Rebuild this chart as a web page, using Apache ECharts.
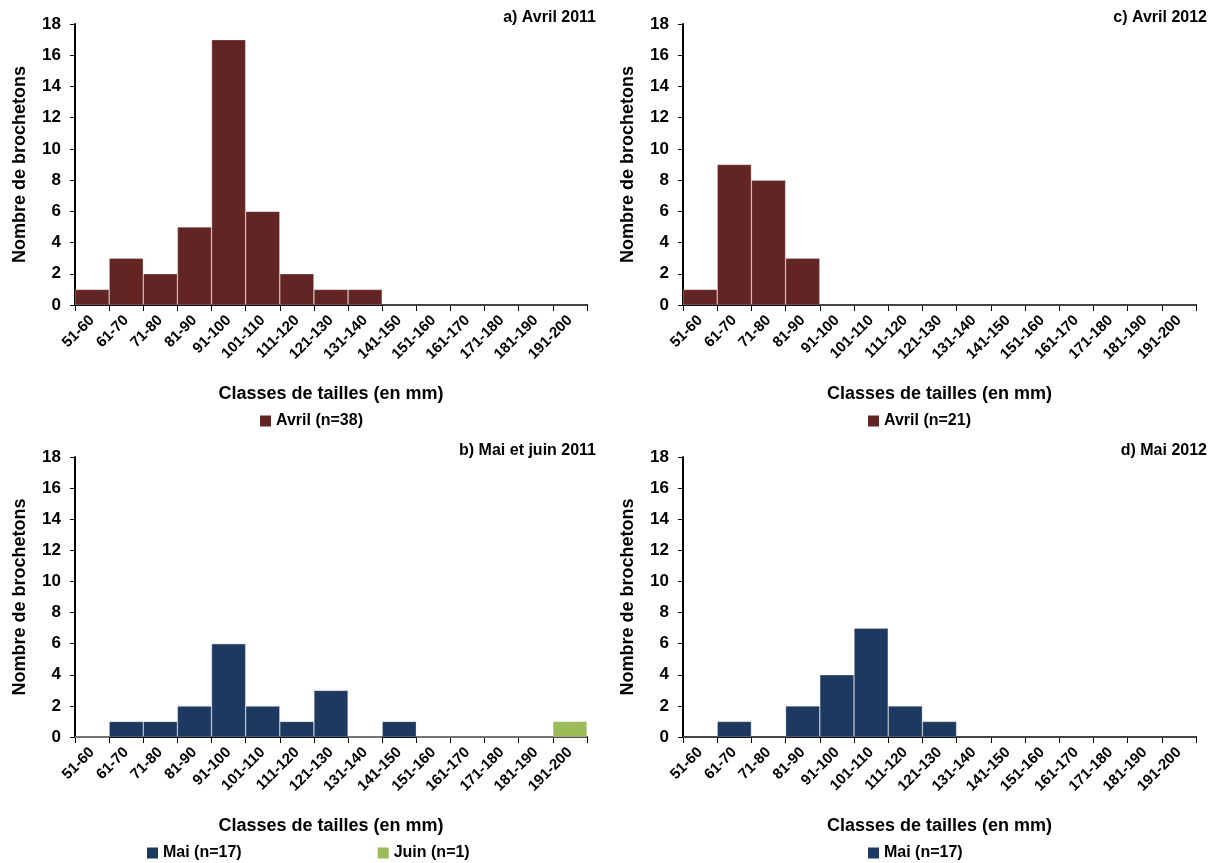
<!DOCTYPE html>
<html><head><meta charset="utf-8">
<script src="https://cdn.jsdelivr.net/npm/echarts@6/dist/echarts.min.js"></script>
<style>html,body{margin:0;padding:0;background:#fff}#c{width:1213px;height:863px}</style>
</head><body><div id="c"></div>
<script>
const categories = ['51-60','61-70','71-80','81-90','91-100','101-110','111-120','121-130','131-140','141-150','151-160','161-170','171-180','181-190','191-200'];
const avril2011 = [1,3,2,5,17,6,2,1,1,0,0,0,0,0,0];
const mai2011 =   [0,1,1,2,6,2,1,3,0,1,0,0,0,0,0];
const juin2011 =  [0,0,0,0,0,0,0,0,0,0,0,0,0,0,1];
const avril2012 = [1,9,8,3,0,0,0,0,0,0,0,0,0,0,0];
const mai2012 =   [0,1,0,2,4,7,2,1,0,0,0,0,0,0,0];
const panelTitles = ['a) Avril 2011','c) Avril 2012','b) Mai et juin 2011','d) Mai 2012'];
const yTicks = {min:0, max:18, interval:2};

const FONT = '"Liberation Sans Narrow", "Liberation Sans", Arial, sans-serif';
const RED = '#632523', NAVY = '#1d3960', GREEN = '#9bbb59';

const grids = [
  {left:75, top:24, width:512, height:281},
  {left:683, top:24, width:513, height:281},
  {left:75, top:457, width:512, height:280},
  {left:683, top:457, width:513, height:280}
];
const xAxes = grids.map((g,i)=>({
  type:'category', gridIndex:i, data:categories, boundaryGap:true,
  axisLine:{lineStyle:{color:'#000', width:2}},
  axisTick:{show:true, length:6, lineStyle:{color:'#000', width:1}},
  axisLabel:{interval:0, rotate:45, color:'#000', fontFamily:FONT, fontWeight:'bold', fontSize:15, margin:13},
  name:'Classes de tailles (en mm)', nameLocation:'middle', nameGap:80,
  nameTextStyle:{color:'#000', fontFamily:FONT, fontWeight:'bold', fontSize:18}
}));
const yAxes = grids.map((g,i)=>({
  type:'value', gridIndex:i, min:yTicks.min, max:yTicks.max, interval:yTicks.interval,
  splitLine:{show:false},
  axisLine:{show:true, lineStyle:{color:'#000', width:2}},
  axisTick:{show:true, length:5, lineStyle:{color:'#000'}},
  axisLabel:{color:'#000', fontFamily:FONT, fontWeight:'bold', fontSize:17, margin:14},
  name:'Nombre de brochetons', nameLocation:'middle', nameGap:46, nameRotate:90,
  nameTextStyle:{color:'#000', fontFamily:FONT, fontWeight:'bold', fontSize:18}
}));
function bar(name, data, idx, color, stack){
  return {type:'bar', name, data, xAxisIndex:idx, yAxisIndex:idx, stack,
    barCategoryGap:'0%', barGap:'0%',
    itemStyle:{color, borderColor:'rgba(230,230,230,0.55)', borderWidth:0.6}};
}
const chart = echarts.init(document.getElementById('c'));
const tStyle = {color:'#000', fontFamily:FONT, fontWeight:'bold', fontSize:16};
const lStyle = {color:'#000', fontFamily:FONT, fontWeight:'bold', fontSize:16};
const legBase = {itemWidth:11, itemHeight:11, icon:'rect', padding:0, textStyle:lStyle, itemStyle:{borderWidth:0}};
chart.setOption({
  animation:false,
  backgroundColor:'#fff',
  title:[
    {text:panelTitles[0], right:1213-596, top:10, textStyle:tStyle, padding:0},
    {text:panelTitles[1], right:1213-1207, top:10, textStyle:tStyle, padding:0},
    {text:panelTitles[2], right:1213-596, top:443, textStyle:tStyle, padding:0},
    {text:panelTitles[3], right:1213-1207, top:443, textStyle:tStyle, padding:0}
  ],
  grid:grids, xAxis:xAxes, yAxis:yAxes,
  legend:[
    Object.assign({data:['Avril (n=38)'], left:260, top:413, itemGap:4}, legBase),
    Object.assign({data:['Avril (n=21)'], left:868, top:413, itemGap:4}, legBase),
    Object.assign({data:['Mai (n=17)','Juin (n=1)'], left:147, top:845, itemGap:136}, legBase),
    Object.assign({data:['Mai (n=17)'], left:868, top:845, itemGap:4}, legBase)
  ],
  series:[
    bar('Avril (n=38)', avril2011, 0, RED),
    bar('Avril (n=21)', avril2012, 1, RED),
    bar('Mai (n=17)', mai2011, 2, NAVY, 'b'),
    bar('Juin (n=1)', juin2011, 2, GREEN, 'b'),
    bar('Mai (n=17)', mai2012, 3, NAVY)
  ]
});
</script></body></html>
